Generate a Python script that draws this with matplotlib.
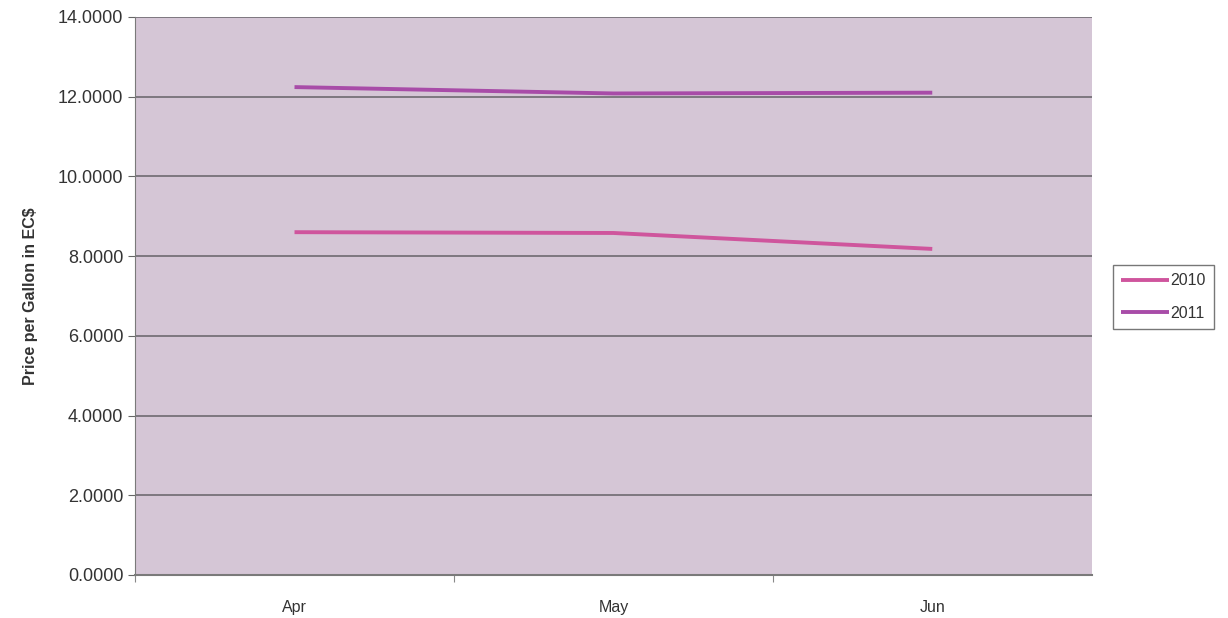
import matplotlib
matplotlib.use("Agg")
import matplotlib.pyplot as plt

plt.rcParams['font.family'] = ['Liberation Sans', 'DejaVu Sans']

months = ["Apr", "May", "Jun"]
price_2010 = [8.60, 8.58, 8.18]
price_2011 = [12.24, 12.08, 12.10]

bg = "#d5c6d6"
grid_col = "#6e6a70"

fig = plt.figure(figsize=(12.28, 6.18), dpi=100)
ax = fig.add_axes([0.110, 0.0696, 0.779, 0.903])
ax.set_facecolor(bg)

x = [0.5, 1.5, 2.5]
ax.plot(x, price_2010, color="#cf559d", lw=2.8, label="2010", solid_capstyle="butt")
ax.plot(x, price_2011, color="#a84ca8", lw=2.8, label="2011", solid_capstyle="butt")

ax.set_xlim(0, 3)
ax.set_ylim(0, 14)
ax.set_yticks(range(0, 15, 2))
ax.set_yticklabels([f"{v:.4f}" for v in range(0, 15, 2)], fontsize=13, color="#333333")
ax.set_xticks([0, 1, 2])
ax.set_xticklabels([])
ax.set_xticks(x, minor=True)
ax.set_xticklabels(months, minor=True, fontsize=11.5, color="#333333")
ax.tick_params(axis="x", which="minor", length=0, pad=18)
ax.tick_params(axis="x", which="major", length=5, color="#888888")
ax.tick_params(axis="y", length=5, color="#666666")

ax.yaxis.grid(True, color=grid_col, lw=1.2)
ax.set_axisbelow(True)
for side in ["top", "right"]:
    ax.spines[side].set_visible(False)
ax.spines["left"].set_color("#7a7a7a")
ax.spines["bottom"].set_color("#7a7a7a")
ax.spines["bottom"].set_linewidth(1.5)

ax.set_ylabel("Price per Gallon in EC$", fontsize=11.5, fontweight="bold", color="#333333", labelpad=14)

leg = ax.legend(loc="center left", bbox_to_anchor=(1.022, 0.498), fontsize=11.5,
                frameon=True, fancybox=False, handlelength=3.0, handletextpad=0.1,
                borderpad=0.5, labelspacing=1.1, borderaxespad=0)
leg.get_frame().set_edgecolor("#555555")
leg.get_frame().set_linewidth(1.0)
for t in leg.get_texts():
    t.set_color("#333333")

fig.savefig("out.png", dpi=100)
